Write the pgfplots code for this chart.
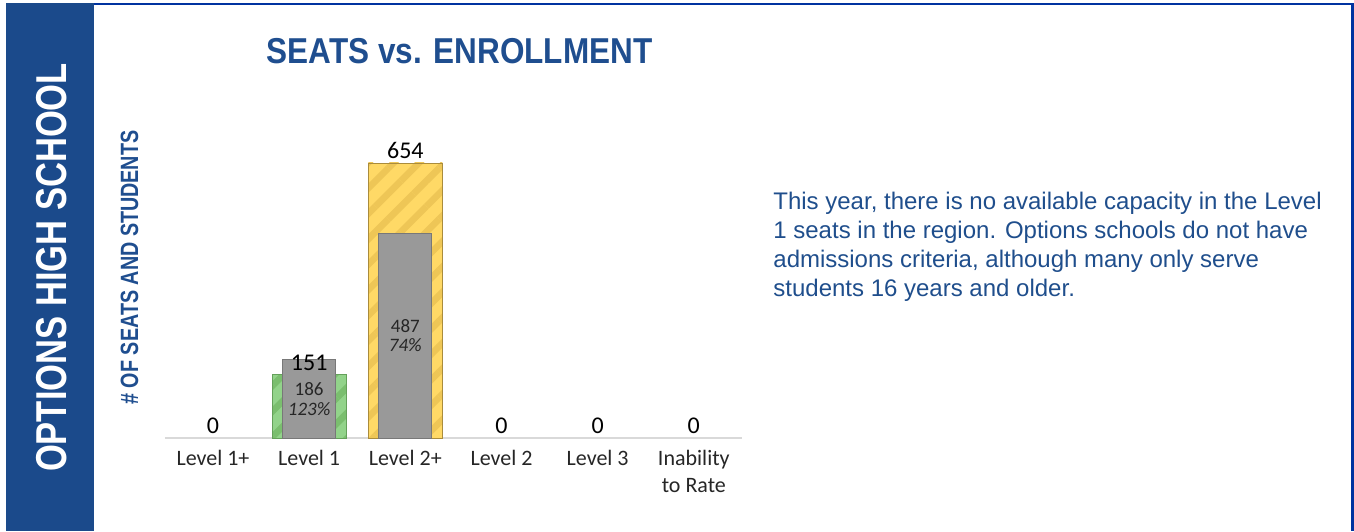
\documentclass[border=0pt]{standalone}
\usepackage{fontspec}
\setmainfont{Liberation Sans}
\newfontfamily\calibri{Carlito}
\usepackage{graphicx}
\usepackage{pgfplots}
\pgfplotsset{compat=1.18}
\usetikzlibrary{patterns.meta}

\definecolor{bandblue}{RGB}{27,74,139}
\definecolor{borderblue}{RGB}{0,51,160}
\definecolor{titleblue}{RGB}{31,78,143}
\definecolor{textblue}{RGB}{31,78,140}
\definecolor{greenfill}{RGB}{146,211,138}
\definecolor{greenstripe}{RGB}{122,190,110}
\definecolor{greenedge}{RGB}{100,160,90}
\definecolor{yellowfill}{RGB}{255,217,102}
\definecolor{yellowstripe}{RGB}{238,198,86}
\definecolor{yellowedge}{RGB}{170,140,60}
\definecolor{grayfill}{RGB}{153,153,153}
\definecolor{grayedge}{RGB}{120,120,120}
\definecolor{labeldark}{RGB}{38,38,38}
\definecolor{baselncol}{RGB}{217,217,217}

\begin{document}
\begin{tikzpicture}
\begin{scope}[x=0.5pt,y=0.5pt]
\path[use as bounding box] (0,0) rectangle (1354,531);
% left band
\fill[bandblue] (6,0) rectangle (94,528);
\draw[borderblue, line width=1.2pt] (94,527) -- (1352.5,527) -- (1352.5,0);
\node[rotate=90, anchor=base, inner sep=0, text=white,
      font=\bfseries\fontsize{21.6}{24}\selectfont] at (66,263.5)
      {\scalebox{0.8}[1]{OPTIONS HIGH SCHOOL}};
% title
\node[anchor=base, inner sep=0, text=titleblue,
      font=\bfseries\fontsize{18}{20}\selectfont] at (459.5,467)
      {\scalebox{0.875}[1]{SEATS vs. ENROLLMENT}};
% y label
\node[rotate=90, anchor=base, inner sep=0, text=titleblue,
      font=\bfseries\fontsize{12.5}{14}\selectfont] at (138,263.5)
      {\scalebox{0.79}[1]{\# OF SEATS AND STUDENTS}};
% side text
\node[anchor=north west, inner sep=0, align=left, text=textblue,
      font=\fontsize{12}{14.5}\selectfont] at (773,339)
      {This year, there is no available capacity in the Level\\
       1 seats in the region. Options schools do not have\\
       admissions criteria, although many only serve\\
       students 16 years and older.};
\end{scope}

\begin{axis}[at={(106.5pt,46.5pt)}, anchor=origin, scale only axis,
  width=288.5pt, height=147.2pt,
  xmin=-0.5, xmax=5.5, ymin=0, ymax=700,
  axis line style={draw=none}, hide y axis,
  xtick={0,1,2,3,4,5},
  xticklabels={Level 1+, Level 1, Level 2+, Level 2, Level 3, {Inability\\to Rate}},
  xtick style={draw=none},
  xticklabel style={align=center, anchor=north, yshift=-2.5pt, text=labeldark,
     font=\calibri\fontsize{11}{13.5}\selectfont},
  clip=false]
\draw[baselncol, line width=0.8pt] (rel axis cs:0,0) -- (rel axis cs:1,0);
% seats
\addplot[ybar, bar width=37pt, bar shift=0pt, fill=greenfill, draw=greenedge, line width=0.4pt,
  postaction={pattern={Lines[angle=45,distance=9pt,line width=3.3pt]}, pattern color=greenstripe}]
  coordinates {(1,151)};
\addplot[ybar, bar width=37pt, bar shift=0pt, fill=yellowfill, draw=yellowedge, line width=0.4pt,
  postaction={pattern={Lines[angle=45,distance=9pt,line width=3.3pt]}, pattern color=yellowstripe}]
  coordinates {(2,654)};
% enrollment
\addplot[ybar, bar width=26.5pt, bar shift=0pt, fill=grayfill, draw=grayedge, line width=0.4pt]
  coordinates {(1,186) (2,487)};
% seat labels
\addplot[draw=none, mark=none, nodes near coords, point meta=explicit symbolic,
  nodes near coords style={anchor=south, yshift=-1.5pt, text=black, font=\calibri\fontsize{12}{13}\selectfont}]
  coordinates {(0,0)[0] (1,151)[151] (2,654)[654] (3,0)[0] (4,0)[0] (5,0)[0]};
% enrollment labels (placed at mid height of gray bars)
\addplot[draw=none, mark=none, nodes near coords, point meta=explicit symbolic,
  nodes near coords style={anchor=center, align=center, text=labeldark,
     font=\calibri\fontsize{9.5}{9.8}\selectfont}]
  coordinates {(1,93)[{186\\\textit{123\%}}] (2,243.5)[{487\\\textit{74\%}}]};
\end{axis}
\end{tikzpicture}
\end{document}
